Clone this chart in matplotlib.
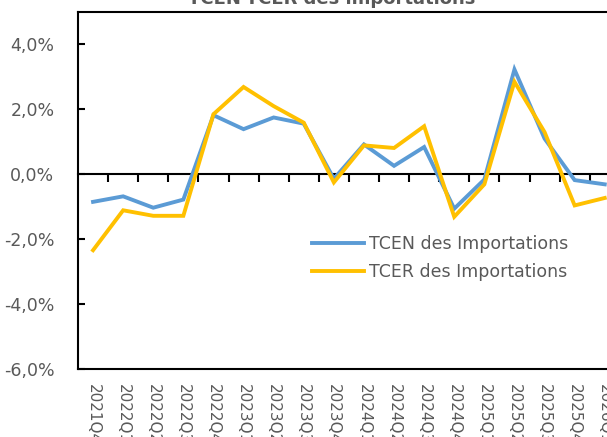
import numpy as np
import matplotlib
matplotlib.use("Agg")
import matplotlib.pyplot as plt
from matplotlib.ticker import FuncFormatter

# données (en %)
trimestres = ["2021Q4", "2022Q1", "2022Q2", "2022Q3", "2022Q4",
              "2023Q1", "2023Q2", "2023Q3", "2023Q4",
              "2024Q1", "2024Q2", "2024Q3", "2024Q4",
              "2025Q1", "2025Q2", "2025Q3", "2025Q4", "2026Q1"]
tcen = [-0.85, -0.68, -1.03, -0.78, 1.82, 1.39, 1.75, 1.56, -0.14,
        0.92, 0.26, 0.84, -1.06, -0.16, 3.23, 1.10, -0.18, -0.31]
tcer = [-2.34, -1.11, -1.28, -1.28, 1.85, 2.69, 2.10, 1.59, -0.25,
        0.89, 0.81, 1.48, -1.31, -0.31, 2.85, 1.30, -0.96, -0.73]

gris = "#595959"
plt.rcParams['font.family'] = ['DejaVu Sans']

fig = plt.figure(figsize=(6.07, 4.37), dpi=100)
n = len(trimestres)
# zone de tracé (débordement à droite, comme la capture)
ax = fig.add_axes([78 / 607, 68 / 437, n * 30.1 / 607, 357 / 437])

x = np.arange(n)
ax.plot(x, tcen, color="#5B9BD5", lw=2.8, label="TCEN des Importations",
        solid_joinstyle='miter', zorder=3)
ax.plot(x, tcer, color="#FFC000", lw=2.8, label="TCER des Importations",
        solid_joinstyle='miter', zorder=4)

ax.set_xlim(-0.5, n - 0.5)
ax.set_ylim(-6, 5)

# axe horizontal sur le zéro, avec graduations entre trimestres
ax.spines['bottom'].set_position(('data', 0))
ax.set_xticks(np.arange(0.5, n, 1))
ax.set_xticklabels([])
ax.tick_params(axis='x', direction='out', length=5.5, width=1.5, color='black')

# étiquettes des trimestres en bas du cadre
sec = ax.secondary_xaxis('bottom')
sec.set_xticks(x)
sec.set_xticklabels(trimestres, rotation=-90, color=gris, fontsize=11)
sec.tick_params(length=0, pad=10.5)
sec.spines['bottom'].set_linewidth(1.5)

ax.set_yticks(np.arange(-6, 5, 2))
ax.yaxis.set_major_formatter(FuncFormatter(lambda v, p: f"{v:.1f}%".replace('.', ',')))
ax.tick_params(axis='y', direction='in', length=5, width=1.5, pad=17,
               labelsize=12.5, labelcolor=gris)

for s in ['left', 'top', 'bottom', 'right']:
    ax.spines[s].set_linewidth(1.5)
    ax.spines[s].set_color('black')

ax.legend(loc='upper left', bbox_to_anchor=(312 / 607, 1 - 235 / 437),
          bbox_transform=fig.transFigure, frameon=False, fontsize=12.5,
          handlelength=3.0, handletextpad=0.3, labelspacing=0.6,
          borderpad=0, borderaxespad=0, labelcolor=gris)

fig.text(332 / 607, 1 - 4 / 437, "TCEN-TCER des importations", ha='center',
         va='baseline', fontsize=13, fontweight='bold', color=gris)

fig.savefig("out.png", dpi=100)
